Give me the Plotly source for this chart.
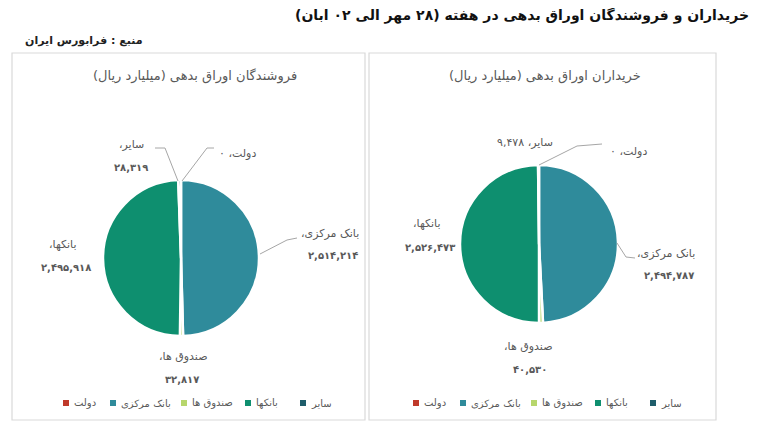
import plotly.graph_objects as go

# the page body adds an 8px margin, so the figure is drawn 8px smaller and
# all layout positions below are given in screen pixels of the 768x430 window
OFF = 8
W, H = 768 - OFF, 430 - OFF

# ---- data ----
categories = ["دولت", "بانک مرکزی", "صندوق ها", "بانکها", "سایر"]
colors = ["#c0392b", "#2f8b9b", "#b7d66c", "#0e8f6f", "#1f5d6b"]
sellers_values = [0, 2514214, 32817, 2495918, 28319]
buyers_values = [0, 2494787, 40530, 2526473, 9478]

main_title = "خریداران و فروشندگان اوراق بدهی در هفته (۲۸ مهر الی ۰۲ آبان)"
source_text = "منبع : فرابورس ایران"
sellers_title = "فروشندگان اوراق بدهی (میلیارد ریال)"
buyers_title = "خریداران اوراق بدهی (میلیارد ریال)"

FA = str.maketrans("0123456789", "۰۱۲۳۴۵۶۷۸۹")
RLE, PDF = "\u202b", "\u202c"


def fa(n):
    return f"{n:,}".translate(FA)


def rtl(s):
    return RLE + s + PDF


def px(x):
    return (x - OFF) / W


def py(y):
    return 1 - (y - OFF) / H


FONT = "DejaVu Sans"
GRAY = "#595959"
LINE = "#a6a6a6"

fig = go.Figure()

fig.add_trace(go.Pie(
    labels=categories, values=sellers_values, sort=False, direction="clockwise",
    rotation=0, textinfo="none", hoverinfo="label+value",
    marker=dict(colors=colors, line=dict(color="white", width=2.5)),
    domain=dict(x=[px(103), px(259)], y=[py(336), py(180)]),
    showlegend=False,
))
fig.add_trace(go.Pie(
    labels=categories, values=buyers_values, sort=False, direction="clockwise",
    rotation=0, textinfo="none", hoverinfo="label+value",
    marker=dict(colors=colors, line=dict(color="white", width=2.5)),
    domain=dict(x=[px(460), px(618)], y=[py(323), py(165)]),
    showlegend=False,
))

ann = []
shapes = []


def text(x, y, s, size=11, color=GRAY, bold=False, xanchor="center"):
    if bold:
        s = "<b>" + s + "</b>"
    ann.append(dict(x=px(x), y=py(y), xref="paper", yref="paper", text=s,
                    showarrow=False, xanchor=xanchor, yanchor="middle",
                    font=dict(family=FONT, size=size, color=color)))


def line(pts):
    path = "M " + " L ".join(f"{px(x)},{py(y)}" for x, y in pts)
    shapes.append(dict(type="path", path=path, xref="paper", yref="paper",
                       line=dict(color=LINE, width=1)))


# titles
text(522, 15, rtl(main_title), size=14, color="#111111", bold=True)
text(23, 41, rtl(source_text), size=11, color="#222222", bold=True, xanchor="left")
text(195, 76, rtl(sellers_title), size=13)
text(545, 76, rtl(buyers_title), size=13)

# left pie labels
s = dict(zip(categories, sellers_values))
text(131, 144, rtl("سایر،"), size=11)
text(131, 167, fa(s["سایر"]), size=10, bold=True)
text(237, 153, rtl("دولت، " + fa(s["دولت"])), size=11)
text(330, 233, rtl("بانک مرکزی،"), size=11)
text(333, 256, fa(s["بانک مرکزی"]), size=10, bold=True)
text(63, 244, rtl("بانکها،"), size=11)
text(66, 267, fa(s["بانکها"]), size=10, bold=True)
text(183, 356, rtl("صندوق ها،"), size=11)
text(182, 379, fa(s["صندوق ها"]), size=10, bold=True)

# right pie labels
b = dict(zip(categories, buyers_values))
text(525, 142, rtl("سایر، " + fa(b["سایر"])), size=11)
text(628, 151, rtl("دولت، " + fa(b["دولت"])), size=11)
text(427, 224, rtl("بانکها،"), size=11)
text(430, 247, fa(b["بانکها"]), size=10, bold=True)
text(666, 253, rtl("بانک مرکزی،"), size=11)
text(669, 275, fa(b["بانک مرکزی"]), size=10, bold=True)
text(528, 346, rtl("صندوق ها،"), size=11)
text(530, 369, fa(b["صندوق ها"]), size=10, bold=True)

# leader lines
line([(178, 181), (165, 148), (155, 148)])
line([(182, 181), (207, 148), (214, 148)])
line([(260, 254), (287, 240), (297, 238)])
line([(539, 165), (577, 146), (602, 144)])
line([(617, 243), (626, 257), (635, 258)])

# panel frames
for x0, x1 in [(12, 365), (369, 716)]:
    shapes.append(dict(type="rect", xref="paper", yref="paper",
                       x0=px(x0), x1=px(x1), y0=py(420), y1=py(53),
                       line=dict(color="#d9d9d9", width=1.2)))

# legends (one per panel), squares + labels built from categories / colors
legend_marker_x = [66, 113, 184, 248, 303]
LEG_Y = 403
for dx in (0, 350):
    for cat, col, mx in zip(categories, colors, legend_marker_x):
        x = mx + dx
        shapes.append(dict(type="rect", xref="paper", yref="paper",
                           x0=px(x - 3), x1=px(x + 3), y0=py(LEG_Y + 3), y1=py(LEG_Y - 3),
                           fillcolor=col, line=dict(width=0)))
        text(x + 6, LEG_Y, rtl(cat), size=10, xanchor="left")

fig.update_layout(
    width=W, height=H, margin=dict(l=0, r=0, t=0, b=0),
    paper_bgcolor="white", plot_bgcolor="white",
    annotations=ann, shapes=shapes, showlegend=False,
    font=dict(family=FONT),
)

fig.write_html("out.html")
